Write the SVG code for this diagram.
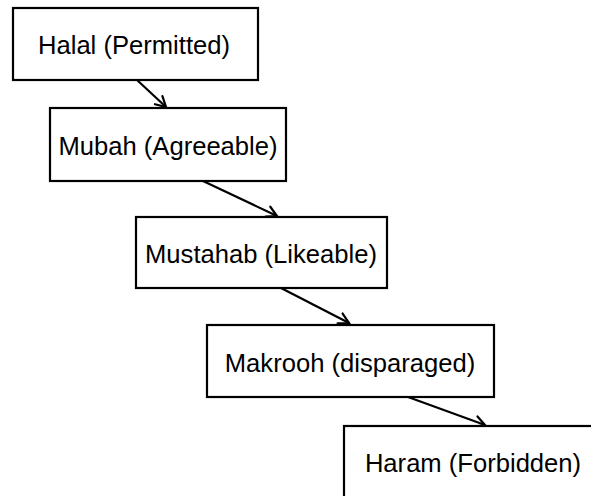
<svg xmlns="http://www.w3.org/2000/svg" width="591" height="496" viewBox="0 0 591 496">
  <style>
    .box { fill: #ffffff; stroke: #000000; stroke-width: 2.2; }
    .lbl { font-family: "Liberation Sans", Arial, sans-serif; font-size: 25.6px; fill: #000000; text-anchor: middle; }
    .conn { stroke: #000000; stroke-width: 2.2; fill: none; marker-end: url(#arr); }
  </style>
  <defs>
    <marker id="arr" markerUnits="userSpaceOnUse" markerWidth="14" markerHeight="14" viewBox="0 0 14 14" refX="12" refY="7" orient="auto">
      <path d="M2,1.5 L12,7 L2,12.5" fill="none" stroke="#000000" stroke-width="2.2" stroke-linecap="round" stroke-linejoin="miter"/>
    </marker>
  </defs>
  <rect width="591" height="496" fill="#ffffff"/>
  <g id="connectors">
    <line class="conn" x1="137" y1="80" x2="166" y2="107"/>
    <line class="conn" x1="203" y1="181" x2="277" y2="216"/>
    <line class="conn" x1="281" y1="288" x2="349" y2="323"/>
    <line class="conn" x1="408" y1="397" x2="485" y2="425"/>
  </g>
  <g id="halal">
    <rect class="box" x="13" y="8" width="245" height="72"/>
    <text class="lbl" x="134" y="54">Halal (Permitted)</text>
  </g>
  <g id="mubah">
    <rect class="box" x="50" y="108" width="236" height="73"/>
    <text class="lbl" x="168" y="155">Mubah (Agreeable)</text>
  </g>
  <g id="mustahab">
    <rect class="box" x="136" y="217" width="251" height="71"/>
    <text class="lbl" x="261" y="263">Mustahab (Likeable)</text>
  </g>
  <g id="makrooh">
    <rect class="box" x="207" y="325" width="287" height="72"/>
    <text class="lbl" x="350" y="372">Makrooh (disparaged)</text>
  </g>
  <g id="haram">
    <rect class="box" x="344" y="426" width="258" height="74"/>
    <text class="lbl" x="473" y="472">Haram (Forbidden)</text>
  </g>
</svg>
